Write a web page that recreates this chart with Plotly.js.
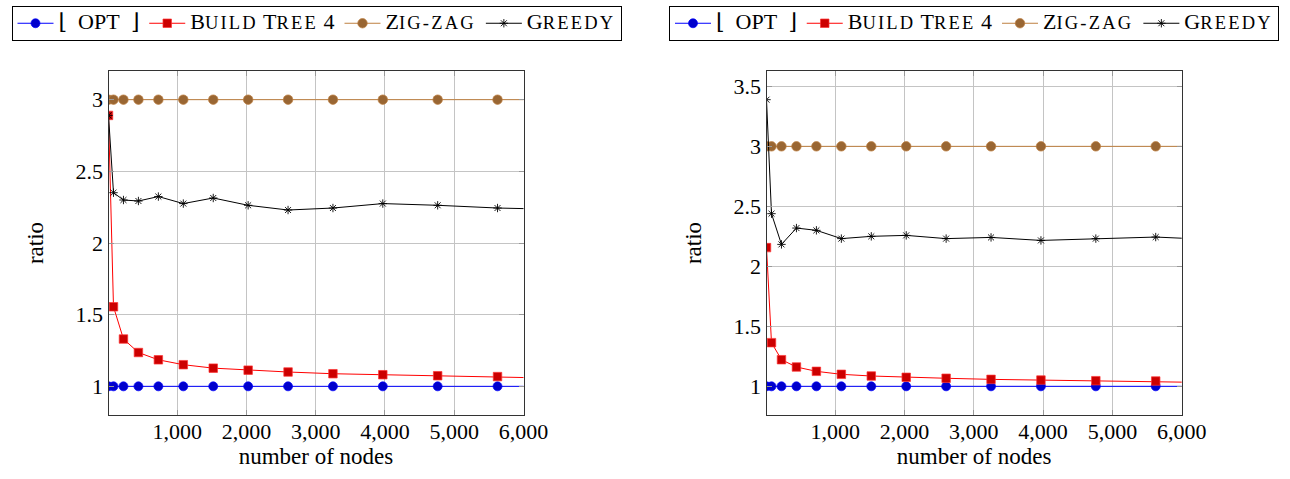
<!DOCTYPE html>
<html><head><meta charset="utf-8">
<script src="https://cdn.plot.ly/plotly-3.0.1.min.js"></script>
<style>html,body{margin:0;padding:0;background:#fff}#chart{width:1290px;height:479px}</style>
</head><body><div id="chart"></div>
<script>
// number of nodes (x values)
const nodes = [9, 81, 225, 441, 729, 1089, 1521, 2025, 2601, 3249, 3969, 4761, 5625, 6561];

// left chart
const optLeft    = [1, 1, 1, 1, 1, 1, 1, 1, 1, 1, 1, 1, 1, 1];
const build4Left = [2.89, 1.555, 1.33, 1.236, 1.185, 1.151, 1.127, 1.113, 1.100, 1.088, 1.081, 1.074, 1.068, 1.056];
const zigzagLeft = [3, 3, 3, 3, 3, 3, 3, 3, 3, 3, 3, 3, 3, 3];
const greedyLeft = [2.89, 2.351, 2.300, 2.293, 2.324, 2.275, 2.314, 2.263, 2.230, 2.244, 2.275, 2.263, 2.244, 2.234];

// right chart
const optRight    = [1, 1, 1, 1, 1, 1, 1, 1, 1, 1, 1, 1, 1, 1];
const build4Right = [2.156, 1.364, 1.222, 1.161, 1.125, 1.100, 1.086, 1.075, 1.067, 1.058, 1.052, 1.047, 1.044, 1.03];
const zigzagRight = [3, 3, 3, 3, 3, 3, 3, 3, 3, 3, 3, 3, 3, 3];
const greedyRight = [3.389, 2.439, 2.183, 2.319, 2.300, 2.231, 2.250, 2.258, 2.231, 2.241, 2.216, 2.231, 2.244, 2.22];

const xTicks = [1000, 2000, 3000, 4000, 5000, 6000];
const yTicksLeft = [1, 1.5, 2, 2.5, 3];
const yTicksRight = [1, 1.5, 2, 2.5, 3, 3.5];

// legend labels (small caps emulated with smaller capitals)
const BIG = 'font-size:22px';
const SC = 'font-size:18.5px;letter-spacing:2.2px';
const big = t => '<span style="' + BIG + '">' + t + '</span>';
const sc = t => '<span style="' + SC + '">' + t + '</span>';
const names = [
  big('\u230A\u00A0\u00A0OPT\u00A0\u00A0\u230B'),
  big('B') + sc('UILD') + big(' T') + sc('REE') + big(' 4'),
  big('Z') + sc('IG-ZAG'),
  big('G') + sc('REEDY')
];

const FONT = '"Liberation Serif", "DejaVu Serif", serif';

const styles = [
  {line: {color: '#0000ff', width: 1}, marker: {symbol: 'circle', size: 9, color: '#0000cc', line: {color: '#0000ff', width: 0.7}}},
  {line: {color: '#ff0000', width: 1}, marker: {symbol: 'square', size: 8.5, color: '#cc0000', line: {color: '#ff3333', width: 0.7}}},
  {line: {color: '#bf8040', width: 1}, marker: {symbol: 'circle', size: 9.5, color: '#996633', line: {color: '#bf8040', width: 0.7}}},
  {line: {color: '#000000', width: 1}, marker: {symbol: 'asterisk-open', size: 7, color: '#000000', line: {color: '#000000', width: 0.9}}}
];

function makeTraces(series, xa, ya, legendId) {
  return series.map((ys, i) => ({
    type: 'scatter', mode: 'lines+markers',
    x: nodes, y: ys, name: names[i],
    xaxis: xa, yaxis: ya, legend: legendId,
    line: styles[i].line, marker: styles[i].marker
  }));
}

const data = [
  ...makeTraces([optLeft, build4Left, zigzagLeft, greedyLeft], 'x', 'y', 'legend'),
  ...makeTraces([optRight, build4Right, zigzagRight, greedyRight], 'x2', 'y2', 'legend2')
];

const W = 1290, H = 479;
function axisCommon() {
  return {
    showline: true, linecolor: '#333', linewidth: 1, mirror: 'allticks',
    ticks: 'inside', ticklen: 5, tickcolor: '#999', tickwidth: 1,
    showgrid: true, gridcolor: '#c4c4c4', gridwidth: 1,
    zeroline: false, tickfont: {family: FONT, size: 22, color: '#000'},
    fixedrange: true
  };
}
const yTop = 1 - 71 / H, yBot = 1 - 415 / H;
const titleFont = {family: FONT, size: 23, color: '#000'};

const legendCommon = {
  orientation: 'h', y: 1 - 6 / H, yanchor: 'top', xanchor: 'center',
  bordercolor: '#000', borderwidth: 1, bgcolor: '#fff', itemwidth: 36,
  font: {family: FONT, size: 15, color: '#000'}, itemclick: false, itemdoubleclick: false
};

const layout = {
  width: W, height: H,
  margin: {l: 0, r: 0, t: 0, b: 0},
  paper_bgcolor: '#fff', plot_bgcolor: '#fff',
  font: {family: FONT, size: 22, color: '#000'},
  showlegend: true,
  xaxis: Object.assign(axisCommon(), {
    domain: [108.5 / W, 523.5 / W], range: [9, 6000], tickvals: xTicks, tickformat: ',d',
    ticklabelstandoff: -3,
    anchor: 'y', title: {text: 'number of nodes', font: titleFont, standoff: 0}
  }),
  yaxis: Object.assign(axisCommon(), {
    domain: [yBot, yTop], range: [0.8, 3.2], tickvals: yTicksLeft, anchor: 'x',
    title: {text: 'ratio', font: titleFont, standoff: 25}
  }),
  xaxis2: Object.assign(axisCommon(), {
    domain: [766.5 / W, 1181.7 / W], range: [9, 6000], tickvals: xTicks, tickformat: ',d',
    ticklabelstandoff: -3,
    anchor: 'y2', title: {text: 'number of nodes', font: titleFont, standoff: 0}
  }),
  yaxis2: Object.assign(axisCommon(), {
    domain: [yBot, yTop], range: [0.761, 3.628], tickvals: yTicksRight, anchor: 'x2',
    title: {text: 'ratio', font: titleFont, standoff: 25}
  }),
  legend: Object.assign({}, legendCommon, {x: 316.5 / W}),
  legend2: Object.assign({}, legendCommon, {x: 974 / W})
};

Plotly.newPlot('chart', data, layout, {staticPlot: true, displayModeBar: false});
</script>
</body></html>
